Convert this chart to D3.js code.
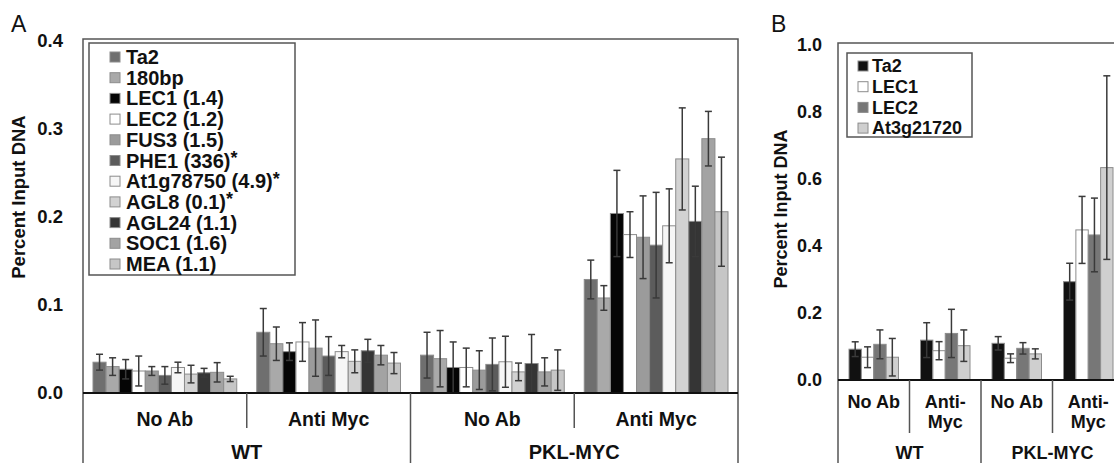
<!DOCTYPE html>
<html>
<head>
<meta charset="utf-8">
<script src="https://cdn.jsdelivr.net/npm/d3@7"></script>
<style>
  body { margin: 0; background: #fff; }
  svg text { font-family: "Liberation Sans", Arial, sans-serif; font-weight: bold; fill: #111; }
</style>
</head>
<body>
<div id="chart"></div>
<script>
// ---- data, panel A ----
const seriesA = ["Ta2", "180bp", "LEC1", "LEC2", "FUS3", "PHE1", "At1g78750", "AGL8", "AGL24", "SOC1", "MEA"];
const legendA = ["Ta2", "180bp", "LEC1 (1.4)", "LEC2 (1.2)", "FUS3 (1.5)", "PHE1 (336)", "At1g78750 (4.9)", "AGL8 (0.1)", "AGL24 (1.1)", "SOC1 (1.6)", "MEA (1.1)"];
const starredA = ["PHE1", "At1g78750", "AGL8"];
const fillA = ["#6f6f6f", "#a9a9a9", "#050505", "#ffffff", "#9b9b9b", "#5c5c5c", "#f6f6f6", "#d2d2d2", "#353535", "#a3a3a3", "#c6c6c6"];
const conditionsA = ["No Ab", "Anti Myc", "No Ab", "Anti Myc"];
const genotypes = ["WT", "PKL-MYC"];
const ticksA = [0, 0.1, 0.2, 0.3, 0.4];
// one row per condition group, one value per series
const meansA = [
  [0.035, 0.030, 0.027, 0.025, 0.025, 0.020, 0.029, 0.0215, 0.023, 0.0235, 0.016],
  [0.069, 0.056, 0.047, 0.058, 0.051, 0.042, 0.047, 0.036, 0.048, 0.043, 0.034],
  [0.043, 0.039, 0.029, 0.029, 0.026, 0.0325, 0.0355, 0.024, 0.0335, 0.024, 0.026],
  [0.129, 0.108, 0.204, 0.180, 0.177, 0.168, 0.190, 0.266, 0.195, 0.289, 0.206]
];
const errA = [
  [0.009, 0.010, 0.011, 0.017, 0.005, 0.010, 0.006, 0.010, 0.005, 0.011, 0.003],
  [0.027, 0.019, 0.010, 0.022, 0.032, 0.022, 0.007, 0.013, 0.013, 0.011, 0.012],
  [0.026, 0.032, 0.029, 0.022, 0.022, 0.030, 0.029, 0.010, 0.033, 0.016, 0.023],
  [0.022, 0.014, 0.049, 0.026, 0.047, 0.060, 0.042, 0.058, 0.040, 0.031, 0.062]
];

// ---- data, panel B ----
const seriesB = ["Ta2", "LEC1", "LEC2", "At3g21720"];
const fillB = ["#111111", "#ffffff", "#777777", "#cfcfcf"];
const conditionsB = ["No Ab", "Anti-\nMyc", "No Ab", "Anti-\nMyc"];
const ticksB = [0, 0.2, 0.4, 0.6, 0.8, 1.0];
const meansB = [
  [0.092, 0.068, 0.1065, 0.068],
  [0.119, 0.0875, 0.139, 0.1025],
  [0.1095, 0.065, 0.0945, 0.078],
  [0.2935, 0.448, 0.433, 0.634]
];
const errB = [
  [0.022, 0.031, 0.043, 0.056],
  [0.052, 0.027, 0.072, 0.047],
  [0.020, 0.013, 0.017, 0.015],
  [0.055, 0.100, 0.110, 0.274]
];

const svg = d3.select("#chart").append("svg")
  .attr("width", 1114)
  .attr("height", 463);

function drawPanel(p) {
  const g = svg.append("g");

  const y = d3.scaleLinear().domain([0, p.ymax]).range([p.y0, p.y1]);
  const x = d3.scaleBand().domain(d3.range(p.conditions.length)).range([p.left, p.right]);
  const xs = d3.scaleBand().domain(p.series).range([p.inset, x.bandwidth() - p.inset]);

  // y axis labels (no tick marks)
  const axis = g.append("g")
    .attr("transform", `translate(${p.left},0)`)
    .call(d3.axisLeft(y).tickValues(p.ticks).tickSize(0).tickPadding(p.tickPad).tickFormat(d3.format(".1f")));
  axis.select(".domain").remove();
  axis.selectAll("text")
    .style("font-size", p.tickFont + "px")
    .style("font-family", "Liberation Sans, Arial, sans-serif");

  // y title
  g.append("text")
    .attr("transform", `translate(${p.titleX},${p.titleY}) rotate(-90)`)
    .attr("text-anchor", "middle")
    .attr("dy", "0.35em")
    .style("font-size", p.titleFont + "px")
    .text("Percent Input DNA");

  // panel letter
  g.append("text")
    .attr("x", p.letterX).attr("y", p.letterY)
    .style("font-size", "23px").style("font-weight", "normal")
    .text(p.letter);

  // bars
  const cells = [];
  p.means.forEach((row, gi) => row.forEach((v, si) => {
    cells.push({ gi, si, v, e: p.errs[gi][si] });
  }));

  g.selectAll("rect.bar").data(cells).join("rect")
    .attr("class", "bar")
    .attr("x", d => x(d.gi) + xs(p.series[d.si]))
    .attr("width", xs.bandwidth())
    .attr("y", d => y(d.v))
    .attr("height", d => y(0) - y(d.v))
    .attr("fill", d => p.fills[d.si])
    .attr("stroke", "#8c8c8c")
    .attr("stroke-width", 1);

  // error bars
  const cap = 3.5;
  const eb = g.selectAll("g.err").data(cells).join("g")
    .attr("class", "err")
    .attr("transform", d => `translate(${x(d.gi) + xs(p.series[d.si]) + xs.bandwidth() / 2},0)`)
    .attr("stroke", "#3a3a3a")
    .attr("stroke-width", 1.5);
  eb.append("line").attr("y1", d => y(d.v + d.e)).attr("y2", d => y(Math.max(0, d.v - d.e)));
  eb.append("line").attr("x1", -cap).attr("x2", cap).attr("y1", d => y(d.v + d.e)).attr("y2", d => y(d.v + d.e));
  eb.append("line").attr("x1", -cap).attr("x2", cap).attr("y1", d => y(Math.max(0, d.v - d.e))).attr("y2", d => y(Math.max(0, d.v - d.e)));

  // frame
  g.append("path")
    .attr("d", `M${p.left},463V${p.top}H${p.right}V463`)
    .attr("fill", "none").attr("stroke", "#555").attr("stroke-width", 1.5);
  g.append("line")
    .attr("x1", p.left).attr("x2", p.right)
    .attr("y1", y(0)).attr("y2", y(0))
    .attr("stroke", "#111").attr("stroke-width", 2);

  // category dividers
  p.conditions.forEach((c, i) => {
    if (i === 0) return;
    const full = i % 2 === 0;
    g.append("line")
      .attr("x1", x(i)).attr("x2", x(i))
      .attr("y1", y(0)).attr("y2", full ? 463 : p.divBottom)
      .attr("stroke", "#555").attr("stroke-width", 1.5);
  });

  // condition labels (may be two lines)
  p.conditions.forEach((c, i) => {
    const cx = x(i) + x.bandwidth() / 2;
    const t = g.append("text")
      .attr("y", p.condY)
      .attr("text-anchor", "middle")
      .style("font-size", p.catFont + "px");
    c.split("\n").forEach((line, li) => {
      t.append("tspan")
        .attr("x", cx)
        .attr("dy", li === 0 ? "0.35em" : p.lineGap + "px")
        .text(line);
    });
  });

  // genotype labels
  genotypes.forEach((gt, i) => {
    g.append("text")
      .attr("x", (x(i * 2) + x(i * 2 + 1) + x.bandwidth()) / 2)
      .attr("y", p.genoY)
      .attr("text-anchor", "middle")
      .attr("dy", "0.35em")
      .style("font-size", p.genoFont + "px")
      .text(gt);
  });

  // legend
  const lg = g.append("g");
  lg.append("rect")
    .attr("x", p.leg.x).attr("y", p.leg.y)
    .attr("width", p.leg.w).attr("height", p.leg.h)
    .attr("fill", "#fff").attr("stroke", "#555").attr("stroke-width", 1.5);
  p.legend.forEach((label, i) => {
    const cy = p.leg.row0 + i * p.leg.step;
    lg.append("rect")
      .attr("x", p.leg.sx).attr("y", cy - 5)
      .attr("width", 10).attr("height", 10)
      .attr("fill", p.fills[i]).attr("stroke", "#8c8c8c");
    const t = lg.append("text")
      .attr("x", p.leg.tx).attr("y", cy)
      .attr("dy", "0.35em")
      .style("font-size", p.leg.font + "px")
      .text(label);
    if (p.starred && p.starred.includes(p.series[i])) {
      t.append("tspan").attr("dy", "-0.2em").style("font-size", "18px").text("*");
    }
  });
}

// Panel A
drawPanel({
  letter: "A", letterX: 11, letterY: 32,
  series: seriesA, legend: legendA, starred: starredA, fills: fillA,
  conditions: conditionsA, means: meansA, errs: errA,
  ymax: 0.4, ticks: ticksA, y0: 393, y1: 41, top: 39,
  left: 83, right: 738, inset: 10,
  tickPad: 20, tickFont: 18.5, titleX: 19, titleY: 197, titleFont: 18.5,
  catFont: 19.5, condY: 419, lineGap: 20, divBottom: 428,
  genoY: 452, genoFont: 20,
  leg: { x: 89, y: 43, w: 206, h: 232, row0: 57, step: 20.7, sx: 110, tx: 126, font: 20 }
});

// Panel B (right side runs off the picture)
drawPanel({
  letter: "B", letterX: 771, letterY: 32,
  series: seriesB, legend: seriesB, starred: null, fills: fillB,
  conditions: conditionsB, means: meansB, errs: errB,
  ymax: 1.0, ticks: ticksB, y0: 380, y1: 45, top: 43,
  left: 838, right: 1124, inset: 11,
  tickPad: 16, tickFont: 18, titleX: 781, titleY: 209, titleFont: 18,
  catFont: 18, condY: 402, lineGap: 20, divBottom: 433,
  genoY: 453, genoFont: 18,
  leg: { x: 847, y: 53, w: 125, h: 84, row0: 66, step: 20.7, sx: 858, tx: 872, font: 18 }
});
</script>
</body>
</html>
